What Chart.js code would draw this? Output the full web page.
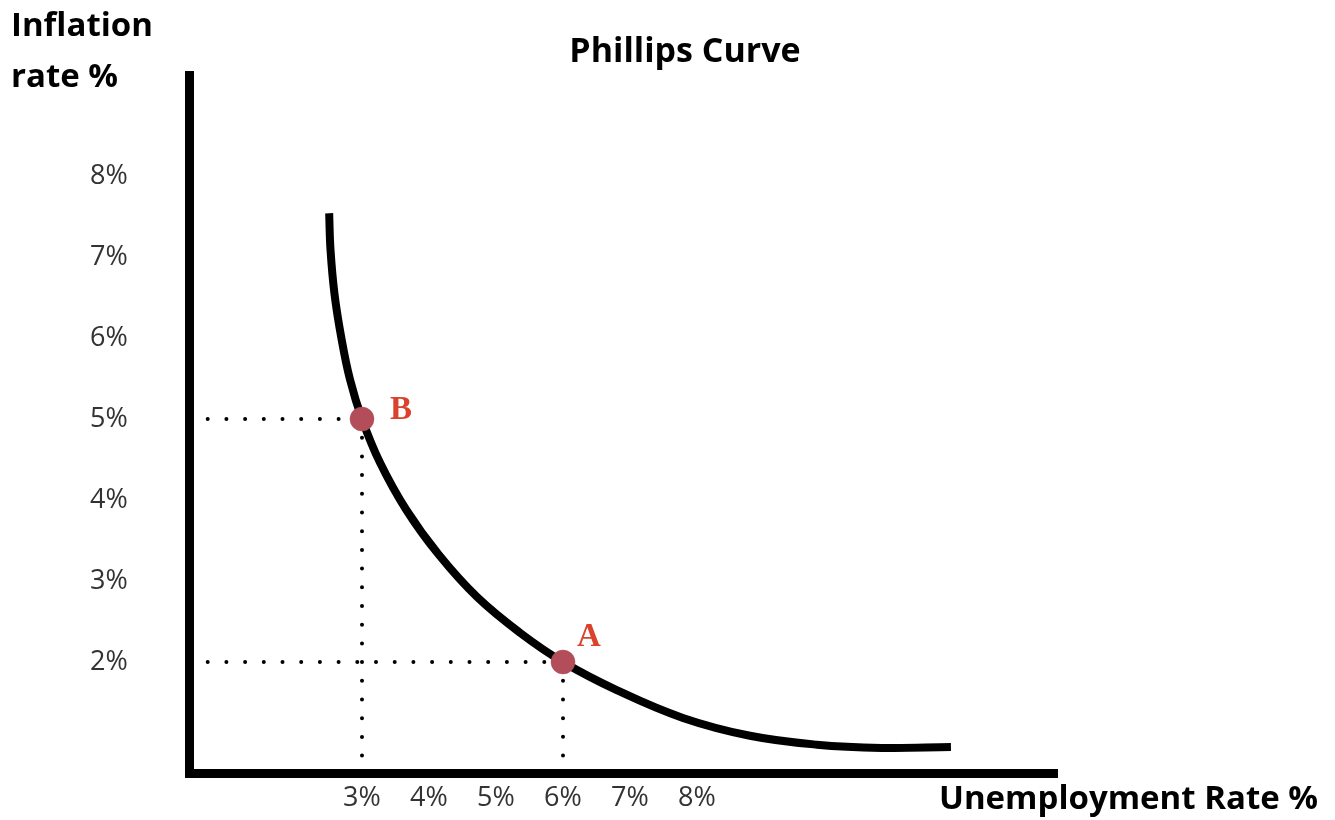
<!DOCTYPE html>
<html>
<head>
<meta charset="utf-8">
<script src="https://cdn.jsdelivr.net/npm/chart.js@4.4.1/dist/chart.umd.min.js"></script>
<style>
  html, body { margin: 0; padding: 0; background: #fff; }
</style>
</head>
<body>
<canvas id="phillips" width="1335" height="820"></canvas>
<script>
// curve (unemployment %, inflation %)
const curveU   = [2.51, 2.53, 2.59, 2.69, 2.82, 3.00, 3.27, 3.66, 4.15, 4.72, 5.36, 6.00, 6.81, 7.79, 8.79, 9.79, 10.75, 11.79];
const curveInf = [7.54, 7.09, 6.54, 6.01, 5.49, 5.00, 4.46, 3.88, 3.32, 2.80, 2.36, 2.00, 1.65, 1.31, 1.09, 0.98, 0.94, 0.95];

const pointNames = ['A', 'B'];
const pointU     = [6, 3];
const pointInf   = [2, 5];

const xTicks = [3, 4, 5, 6, 7, 8];
const yTicks = [2, 3, 4, 5, 6, 7, 8];

const xMin = 0.418, xMax = 13.373;
const yMin = 0.63,  yMax = 9.247;

const curveData = curveU.map((u, i) => ({ x: u, y: curveInf[i] }));
const markerData = pointU.map((u, i) => ({ x: u, y: pointInf[i] }));

// dotted guides from the axes to each point
const guideSets = [];
pointU.forEach((u, i) => {
  guideSets.push([{ x: xMin, y: pointInf[i] }, { x: u, y: pointInf[i] }]);
  guideSets.push([{ x: u, y: pointInf[i] }, { x: u, y: yMin }]);
});
const guides = guideSets.map(d => ({
  data: d,
  showLine: true,
  borderColor: '#000',
  borderWidth: 4,
  borderDash: [0, 18.7],
  borderCapStyle: 'round',
  pointRadius: 0,
  order: 3
}));

const textPlugin = {
  id: 'phillipsText',
  afterDraw(chart) {
    const ctx = chart.ctx;
    const xs = chart.scales.x, ys = chart.scales.y;
    ctx.save();
    ctx.fillStyle = '#000';
    ctx.textBaseline = 'middle';

    ctx.font = 'bold 34px "Open Sans"';
    ctx.textAlign = 'center';
    ctx.fillText('Phillips Curve', 685, 52);

    ctx.font = 'bold 33px "Open Sans"';
    ctx.textAlign = 'left';
    ctx.fillText('Inflation', 11, 27);
    ctx.fillText('rate %', 11, 78);

    ctx.textAlign = 'right';
    ctx.fillText('Unemployment Rate %', 1318, 800);

    // point labels
    ctx.font = 'bold 33px "Liberation Serif"';
    ctx.fillStyle = '#d9432b';
    ctx.textAlign = 'left';
    pointNames.forEach((name, i) => {
      const px = xs.getPixelForValue(pointU[i]);
      const py = ys.getPixelForValue(pointInf[i]);
      if (name === 'B') ctx.fillText(name, px + 28, py - 9);
      else ctx.fillText(name, px + 14, py - 25);
    });
    ctx.restore();
  }
};

const chart = new Chart(document.getElementById('phillips').getContext('2d'), {
  type: 'scatter',
  data: {
    datasets: [
      {
        data: markerData,
        pointRadius: 12,
        pointHoverRadius: 12,
        pointBackgroundColor: '#b24d59',
        pointBorderColor: 'rgba(178,77,89,0.5)',
        pointBorderWidth: 1,
        order: 1
      },
      {
        data: curveData,
        showLine: true,
        borderColor: '#000',
        borderWidth: 8,
        borderCapStyle: 'butt',
        tension: 0.4,
        pointRadius: 0,
        order: 2
      },
      ...guides
    ]
  },
  options: {
    responsive: false,
    animation: false,
    layout: { padding: { top: 75, right: 278, left: 90, bottom: 0 } },
    plugins: {
      legend: { display: false },
      tooltip: { enabled: false },
      title: { display: false }
    },
    scales: {
      x: {
        type: 'linear',
        min: xMin,
        max: xMax,
        grid: { display: false, drawTicks: false },
        border: { display: true, color: '#000', width: 9 },
        afterBuildTicks: s => { s.ticks = xTicks.map(v => ({ value: v })); },
        afterFit: s => { s.height = 47; },
        ticks: {
          padding: 9,
          color: '#333',
          font: { family: 'Open Sans', size: 27 },
          callback: v => v + '%'
        }
      },
      y: {
        type: 'linear',
        min: yMin,
        max: yMax,
        grid: { display: false, drawTicks: false },
        border: { display: true, color: '#000', width: 9 },
        afterBuildTicks: s => { s.ticks = yTicks.map(v => ({ value: v })); },
        afterFit: s => { s.width = 99; },
        ticks: {
          padding: 0,
          crossAlign: 'far',
          color: '#333',
          font: { family: 'Open Sans', size: 27 },
          callback: v => v + '%'
        }
      }
    }
  },
  plugins: [textPlugin]
});
</script>
</body>
</html>
